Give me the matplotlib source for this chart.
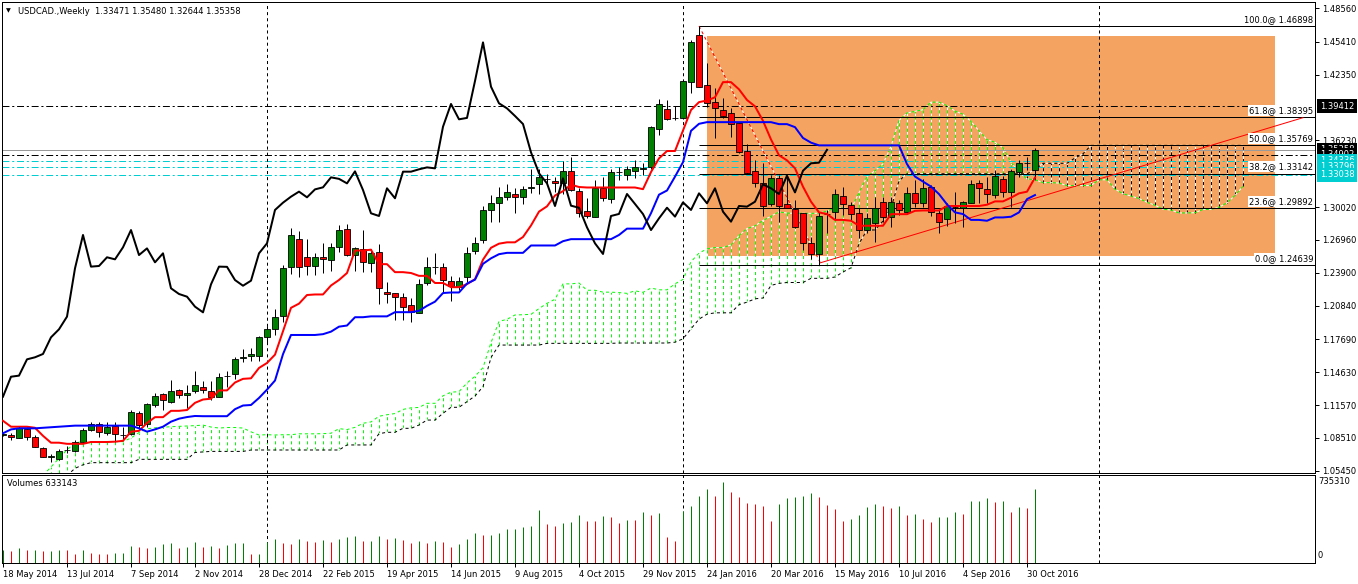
import numpy as np
import pandas as pd
import matplotlib
matplotlib.use("Agg")
import matplotlib.pyplot as plt
import matplotlib.transforms as mtransforms
from matplotlib.patches import Rectangle

plt.rcParams['font.family'] = ['DejaVu Sans']
plt.rcParams['lines.scale_dashes'] = False

W, H = 1358, 584
PX = 0.72  # one pixel in points at dpi 100

# USDCAD weekly candles, bar 0 = week of 18 May 2014
opens = [1.0882, 1.0878, 1.0853, 1.0931, 1.0863, 1.0760, 1.0676, 1.0651, 1.0735, 1.0732,
         1.0816, 1.0924, 1.0977, 1.0894, 1.0962, 1.0880, 1.0887, 1.1086, 1.0980, 1.1157,
         1.1257, 1.1182, 1.1294, 1.1247, 1.1291, 1.1328, 1.1291, 1.1229, 1.1425, 1.1446,
         1.1596, 1.1614, 1.1614, 1.1788, 1.1863, 1.1987, 1.2447, 1.2701, 1.2540, 1.2453,
         1.2534, 1.2506, 1.2627, 1.2795, 1.2555, 1.2608, 1.2478, 1.2580, 1.2214, 1.2198,
         1.2161, 1.2086, 1.2012, 1.2291, 1.2441, 1.2441, 1.2316, 1.2260, 1.2347, 1.2596,
         1.2695, 1.2975, 1.3043, 1.3093, 1.3121, 1.3099, 1.3180, 1.3214, 1.3261, 1.3248,
         1.3223, 1.3335, 1.3155, 1.2965, 1.2906, 1.3177, 1.3074, 1.3328, 1.3301, 1.3341,
         1.3357, 1.3372, 1.3727, 1.3913, 1.3829, 1.3829, 1.4165, 1.4606, 1.4140, 1.3984,
         1.3907, 1.3876, 1.3782, 1.3525, 1.3338, 1.3229, 1.3027, 1.3270, 1.3031, 1.2987,
         1.2944, 1.2664, 1.2562, 1.2934, 1.2953, 1.3108, 1.3021, 1.2950, 1.2788, 1.2850,
         1.3046, 1.2913, 1.3043, 1.2953, 1.3130, 1.3037, 1.3186, 1.2950, 1.2888, 1.3000,
         1.2990, 1.3043, 1.3223, 1.3167, 1.3115, 1.3261, 1.3146, 1.3332, 1.3412, 1.33471]
highs = [1.0900, 1.0894, 1.0962, 1.0955, 1.0878, 1.0769, 1.0701, 1.0744, 1.0775, 1.0831,
         1.0940, 1.0996, 1.0996, 1.0996, 1.1002, 1.0949, 1.1111, 1.1101, 1.1179, 1.1272,
         1.1272, 1.1390, 1.1303, 1.1344, 1.1477, 1.1381, 1.1381, 1.1452, 1.1477, 1.1608,
         1.1676, 1.1686, 1.1801, 1.1894, 1.2049, 1.2462, 1.2804, 1.2779, 1.2701, 1.2571,
         1.2664, 1.2664, 1.2835, 1.2841, 1.2633, 1.2788, 1.2608, 1.2655, 1.2307, 1.2204,
         1.2198, 1.2152, 1.2329, 1.2540, 1.2577, 1.2478, 1.2360, 1.2353, 1.2633, 1.2726,
         1.3012, 1.3115, 1.3192, 1.3217, 1.3177, 1.3198, 1.3354, 1.3354, 1.3310, 1.3285,
         1.3434, 1.3472, 1.3177, 1.3084, 1.3254, 1.3285, 1.3354, 1.3372, 1.3385, 1.3441,
         1.3410, 1.3760, 1.4006, 1.4000, 1.3944, 1.4177, 1.4559, 1.4690, 1.4342, 1.4109,
         1.4015, 1.3922, 1.3782, 1.3590, 1.3441, 1.3410, 1.3301, 1.3301, 1.3285, 1.3068,
         1.2950, 1.2726, 1.2959, 1.2975, 1.3167, 1.3192, 1.3052, 1.2990, 1.2944, 1.3099,
         1.3099, 1.3099, 1.3068, 1.3186, 1.3254, 1.3261, 1.3208, 1.2975, 1.3037, 1.3146,
         1.3062, 1.3254, 1.3254, 1.3285, 1.3347, 1.3292, 1.3360, 1.3441, 1.3472, 1.35480]
lows = [1.0870, 1.0831, 1.0847, 1.0831, 1.0763, 1.0670, 1.0629, 1.0645, 1.0707, 1.0722,
        1.0800, 1.0915, 1.0862, 1.0878, 1.0816, 1.0831, 1.0878, 1.0940, 1.0955, 1.1142,
        1.1110, 1.1173, 1.1220, 1.1126, 1.1266, 1.1266, 1.1204, 1.1229, 1.1322, 1.1400,
        1.1561, 1.1571, 1.1571, 1.1738, 1.1810, 1.1934, 1.2378, 1.2353, 1.2369, 1.2369,
        1.2391, 1.2409, 1.2586, 1.2546, 1.2409, 1.2400, 1.2400, 1.2099, 1.2105, 1.1950,
        1.1950, 1.1934, 1.2012, 1.2276, 1.2378, 1.2214, 1.2130, 1.2229, 1.2307, 1.2565,
        1.2664, 1.2866, 1.2866, 1.3068, 1.2950, 1.3031, 1.3130, 1.3124, 1.3208, 1.3146,
        1.3124, 1.3155, 1.2906, 1.2897, 1.2906, 1.3062, 1.3043, 1.3254, 1.3254, 1.3270,
        1.3301, 1.3360, 1.3674, 1.3814, 1.3814, 1.3823, 1.4068, 1.4118, 1.3932, 1.3643,
        1.3835, 1.3658, 1.3509, 1.3310, 1.3192, 1.2922, 1.3015, 1.2860, 1.2990, 1.2804,
        1.2602, 1.2515, 1.2464, 1.2757, 1.2881, 1.2928, 1.2881, 1.2711, 1.2757, 1.2680,
        1.2866, 1.2819, 1.2928, 1.2937, 1.3006, 1.3000, 1.2919, 1.2763, 1.2826, 1.2850,
        1.2819, 1.3037, 1.3043, 1.3043, 1.3083, 1.3099, 1.3006, 1.3279, 1.3347, 1.32644]
closes = [1.0890, 1.0862, 1.0946, 1.0856, 1.0769, 1.0670, 1.0680, 1.0732, 1.0740, 1.0812,
          1.0921, 1.0977, 1.0903, 1.0949, 1.0887, 1.0876, 1.1095, 1.0971, 1.1164, 1.1244,
          1.1204, 1.1288, 1.1247, 1.1266, 1.1341, 1.1297, 1.1235, 1.1421, 1.1431, 1.1583,
          1.1602, 1.1633, 1.1788, 1.1863, 1.1981, 1.2431, 1.2742, 1.2447, 1.2453, 1.2534,
          1.2515, 1.2627, 1.2788, 1.2555, 1.2617, 1.2487, 1.2571, 1.2245, 1.2192, 1.2167,
          1.2074, 1.2021, 1.2282, 1.2447, 1.2445, 1.2322, 1.2269, 1.2316, 1.2571, 1.2664,
          1.2975, 1.3043, 1.3099, 1.3146, 1.3093, 1.3167, 1.3186, 1.3279, 1.3265, 1.3223,
          1.3335, 1.3161, 1.2944, 1.2919, 1.3177, 1.3084, 1.3332, 1.3332, 1.3354, 1.3372,
          1.3363, 1.3751, 1.3963, 1.3820, 1.3833, 1.4177, 1.4537, 1.4124, 1.3969, 1.3922,
          1.3851, 1.3776, 1.3512, 1.3317, 1.3223, 1.3012, 1.3270, 1.3015, 1.2996, 1.2813,
          1.2664, 1.2565, 1.2919, 1.2938, 1.3124, 1.3031, 1.2937, 1.2788, 1.2897, 1.2996,
          1.2913, 1.3046, 1.2975, 1.3130, 1.3037, 1.3177, 1.2959, 1.2866, 1.3012, 1.3006,
          1.3052, 1.3214, 1.3177, 1.3124, 1.3294, 1.3139, 1.3341, 1.3410, 1.3416, 1.35358]

# tick volume, thousands
volumes_k = [114, 105, 131, 114, 114, 105, 105, 114, 112, 79,
             114, 88, 79, 71, 88, 88, 148, 139, 131, 139,
             165, 173, 131, 139, 182, 139, 148, 131, 156, 173,
             173, 71, 79, 182, 207, 173, 165, 207, 190, 182,
             199, 182, 207, 224, 233, 190, 190, 233, 207, 216,
             199, 173, 190, 173, 190, 182, 139, 165, 207, 258,
             241, 241, 258, 292, 292, 309, 318, 454, 335, 318,
             344, 352, 412, 361, 358, 403, 395, 344, 369, 366,
             437, 412, 429, 224, 190, 446, 488, 573, 633, 573,
             693, 608, 565, 514, 505, 488, 361, 505, 556, 565,
             573, 599, 565, 497, 463, 361, 378, 412, 480, 505,
             488, 471, 488, 412, 420, 378, 352, 395, 395, 437,
             420, 531, 531, 556, 522, 531, 437, 480, 471, 633]

# indicator values before the window
tenkan_head = [1.1010, 1.0955, 1.0955, 1.0955, 1.0945, 1.0870, 1.0806, 1.0806]
kijun_head = [1.0894, 1.0930, 1.0940, 1.0940, 1.0940, 1.0945, 1.0949, 1.0955, 1.0960, 1.0965,
              1.0965, 1.0965, 1.0965, 1.0965, 1.0965, 1.0965, 1.0965, 1.0940, 1.0909, 1.0930,
              1.0955, 1.1002, 1.1030, 1.1045, 1.1055]
span_a_head = [1.0500, 1.0580, 1.0660, 1.0740, 1.0804, 1.0816, 1.0816, 1.0816, 1.0816, 1.0816,
               1.0816, 1.0850, 1.0900, 1.0935, 1.0945, 1.0950, 1.0955, 1.0958, 1.0960, 1.0965,
               1.0970]
span_b_head = [1.0450, 1.0450, 1.0470, 1.0500, 1.0567, 1.0600, 1.0620, 1.0620, 1.0620, 1.0620,
               1.0620, 1.0620, 1.0651, 1.0651, 1.0651, 1.0651, 1.0651, 1.0651, 1.0651, 1.0715,
               1.0720, 1.0725, 1.0725, 1.0725, 1.0725, 1.0725, 1.0738, 1.0738, 1.0738, 1.0738,
               1.0738, 1.0738, 1.0738, 1.0738, 1.0738, 1.0738, 1.0738, 1.0738, 1.0785, 1.0785,
               1.0785, 1.0785, 1.0890, 1.0903, 1.0903, 1.0940, 1.0940, 1.0971, 1.1017, 1.1017,
               1.1080, 1.1136, 1.1136, 1.1188, 1.1241, 1.1328, 1.1600, 1.1716, 1.1716, 1.1716,
               1.1716, 1.1716, 1.1716, 1.1732, 1.1732, 1.1732, 1.1732, 1.1732, 1.1732, 1.1732,
               1.1732, 1.1732]

date_labels = ["18 May 2014", "13 Jul 2014", "7 Sep 2014", "2 Nov 2014", "28 Dec 2014",
               "22 Feb 2015", "19 Apr 2015", "14 Jun 2015", "9 Aug 2015", "4 Oct 2015",
               "29 Nov 2015", "24 Jan 2016", "20 Mar 2016", "15 May 2016", "10 Jul 2016",
               "4 Sep 2016", "30 Oct 2016"]
price_ticks = [1.48560, 1.45410, 1.42350, 1.36230, 1.30020, 1.26960, 1.23900,
               1.20840, 1.17690, 1.14630, 1.11570, 1.08510, 1.05450]

fib_high, fib_low = 1.46898, 1.24639
fib_levels = [0.0, 23.6, 38.2, 50.0, 61.8, 100.0]
black_marks = [1.39412, 1.35358, 1.34902]
cyan_marks = [1.34336, 1.33796, 1.33038]

# ---- indicators
n = len(closes)
idx = np.arange(n)
hi = pd.Series(highs)
lo = pd.Series(lows)
tenkan = ((hi.rolling(9).max() + lo.rolling(9).min()) / 2).to_numpy()
tenkan[:len(tenkan_head)] = tenkan_head
kijun = ((hi.rolling(26).max() + lo.rolling(26).min()) / 2).to_numpy()
kijun[:len(kijun_head)] = kijun_head
span_b_calc = ((hi.rolling(52).max() + lo.rolling(52).min()) / 2).to_numpy()

j_idx = np.arange(5, n + 26)
span_a = np.array([span_a_head[j - 5] if j < 26 else (tenkan[j - 26] + kijun[j - 26]) / 2 for j in j_idx])
span_b = np.array([span_b_head[j - 5] if j < 77 else span_b_calc[j - 26] for j in j_idx])

# ---- figure
fig = plt.figure(figsize=(W / 100, H / 100), dpi=100)
ax = fig.add_axes([2 / W, 1 - 472.7 / H, 1313 / W, 470.7 / H])
vax = fig.add_axes([2 / W, 1 - 562.7 / H, 1313 / W, 87.4 / H])
xlim = (-0.125, 164.0)
ax.set_xlim(*xlim)
vax.set_xlim(*xlim)
ax.set_ylim(1.05264, 1.49133)

dot = (0, (2.2, 2.2))
dashdot = (0, (5, 2, 1.5, 2))

# fibo box
ax.add_patch(Rectangle((87.96, 1.2546), 159 - 87.96, 1.4599 - 1.2546, fc='#F4A460', ec='none', zorder=0))

# cloud
lo_c = np.minimum(span_a, span_b)
hi_c = np.maximum(span_a, span_b)
hatch_cols = np.where(span_a >= span_b, '#00ff00', 'black')
ax.vlines(j_idx, lo_c, hi_c, colors=hatch_cols, lw=PX, linestyles=dot, gapcolor='white', zorder=1)
ax.plot(j_idx, span_a, color='#00ff00', lw=PX, ls=dot, gapcolor='white', zorder=1.5)
ax.plot(j_idx, span_b, color='black', lw=PX, ls=dot, gapcolor='white', zorder=1.5)

# horizontal marks
ax.axhline(black_marks[0], color='black', lw=PX, ls=dashdot, zorder=2)
ax.axhline(black_marks[1], color='#9a9a9a', lw=PX, zorder=2)
ax.axhline(black_marks[2], color='black', lw=PX, ls=dashdot, zorder=2)
for v in cyan_marks:
    ax.axhline(v, color='#00CED1', lw=PX, ls=dashdot, zorder=2)

# fibo levels
for pct in fib_levels:
    lvl = fib_low + (fib_high - fib_low) * pct / 100
    ax.hlines(lvl, 87, xlim[1], color='black', lw=PX, zorder=2)
    ax.annotate(f"{pct:.1f}@ {lvl:.5f}", xy=(0.9985, lvl),
                xycoords=mtransforms.blended_transform_factory(ax.transAxes, ax.transData),
                xytext=(0, 1.5), textcoords='offset points', ha='right', va='bottom', fontsize=6,
                bbox=dict(boxstyle='square,pad=0.12', fc='white', ec='none'), zorder=6)
ax.plot([87, 102.3], [fib_high, fib_low], color='red', lw=PX, ls=dot, gapcolor='white', zorder=2)
ax.plot([102.1, 162.5], [1.2481, 1.3835], color='red', lw=PX, zorder=2)

# year separators
for a in (ax, vax):
    for sep in (33, 85, 137):
        a.axvline(sep, color='black', lw=PX, ls=dot, zorder=2)

# candles
o = np.array(opens)
c = np.array(closes)
up = c >= o
ax.vlines(idx, lows, highs, color='black', lw=PX, zorder=3)
ax.bar(idx, np.abs(c - o), bottom=np.minimum(o, c), width=0.65,
       color=np.where(up, '#008000', '#ff0000'), edgecolor='black', linewidth=0.6, zorder=3.5)

# ichimoku lines
ax.plot(idx, tenkan, color='red', lw=2 * PX, zorder=4)
ax.plot(idx, kijun, color='blue', lw=2 * PX, zorder=4)
ax.plot(idx[:-26], c[26:], color='black', lw=2 * PX, zorder=4)

# price axis
ax.yaxis.tick_right()
ax.set_yticks(price_ticks)
ax.set_yticklabels([f"{v:.5f}" for v in price_ticks])
ax.tick_params(axis='y', direction='out', length=3, width=PX, labelsize=6, pad=2)
ax.tick_params(axis='x', bottom=False, labelbottom=False)
for s in ax.spines.values():
    s.set_linewidth(PX)

box_tr = mtransforms.blended_transform_factory(ax.transAxes, ax.transData)
marks = [(black_marks[0], 'black'), (black_marks[1], 'black'), (black_marks[2], 'black'),
         (cyan_marks[0], '#00CED1'), (cyan_marks[1], '#00CED1'), (cyan_marks[2], '#00CED1')]
for k, (v, fc) in enumerate(marks):
    ax.annotate(f"{v:.5f}", xy=(1, v), xycoords=box_tr, xytext=(3.5, 0), textcoords='offset points',
                ha='left', va='center', fontsize=6, color='white', annotation_clip=False,
                bbox=dict(boxstyle='square,pad=0.3', fc=fc, ec='none'), zorder=10 + k)

# volumes
vol = np.array(volumes_k)
vcol = ['#008000'] + ['#008000' if vol[i] >= vol[i - 1] else '#ff0000' for i in range(1, n)]
vax.vlines(idx, 0, vol, colors=vcol, lw=PX, zorder=3)
vax.set_ylim(0, 755)
vax.set_yticks([])
vax.set_xticks(idx[::8])
vax.set_xticklabels(date_labels, ha='left')
vax.tick_params(axis='x', direction='out', length=3, width=PX, labelsize=6, pad=2)
for s in vax.spines.values():
    s.set_linewidth(PX)

fig.text(7 / W, 1 - 484 / H, "Volumes 633143", fontsize=6, va='center', ha='left')
fig.text(1318 / W, 1 - 482 / H, "735310", fontsize=6, va='center', ha='left')
fig.text(1318 / W, 1 - 556 / H, "0", fontsize=6, va='center', ha='left')
fig.text(6 / W, 1 - 11 / H, "▼", fontsize=4.5, va='center', ha='left')
fig.text(18 / W, 1 - 11 / H, "USDCAD.,Weekly  1.33471 1.35480 1.32644 1.35358", fontsize=6,
         va='center', ha='left')

fig.savefig("out.png", dpi=100)
